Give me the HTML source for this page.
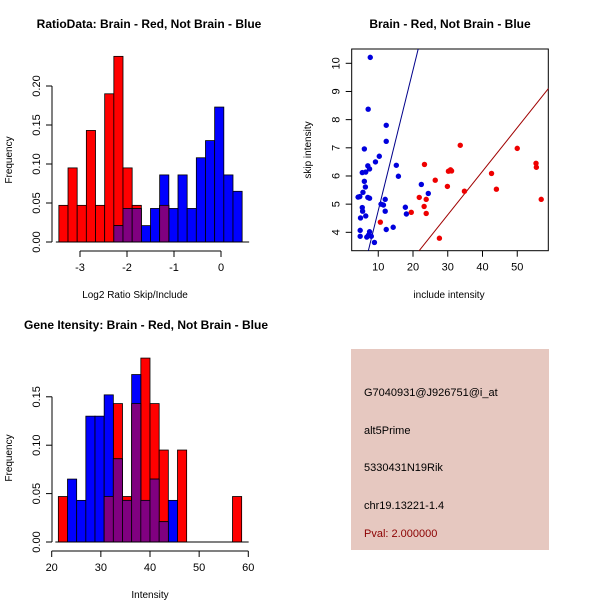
<!DOCTYPE html>
<html><head><meta charset="utf-8"><style>
html,body{margin:0;padding:0;background:#fff}
svg{display:block;font-family:"Liberation Sans",sans-serif}
</style></head><body>
<svg id="c" width="600" height="600" viewBox="0 0 600 600"></svg>
<script>
// ---- Data ----
const ratioRed = [0.047,0.095,0.047,0.143,0.047,0.19,0.238,0.095,0.047,0,0,0.047,0,0,0,0,0,0,0,0];
const ratioBlue = [0,0,0,0,0,0,0.021,0.043,0.043,0.021,0.043,0.086,0.043,0.086,0.043,0.108,0.13,0.173,0.086,0.065];
const ratioStart = -3.45, ratioBinW = 0.195;
const ratioXTicks = [-3,-2,-1,0];
const ratioYTicks = [0,0.05,0.10,0.15,0.20];
const ratioYLabels = ["0.00","0.05","0.10","0.15","0.20"];

const intRed = [0.047,0,0,0,0,0.047,0.143,0.047,0.143,0.19,0.143,0.095,0,0.095,0,0,0,0,0,0.047];
const intBlue = [0,0.065,0.043,0.13,0.13,0.152,0.086,0.043,0.173,0.043,0.065,0.021,0.043,0,0,0,0,0,0,0];
const intStart = 21.35, intBinW = 1.865;
const intXTicks = [20,30,40,50,60];
const intYTicks = [0,0.05,0.10,0.15];
const intYLabels = ["0.00","0.05","0.10","0.15"];

const blueX = [7.7,7.1,12.3,12.3,6.0,10.3,9.2,7.0,7.5,5.4,6.4,15.2,15.8,6.0,6.3,5.6,4.2,4.7,7.0,7.5,22.4,24.4,12.0,10.8,11.5,5.4,5.5,12.0,17.8,18.1,6.4,4.9,4.8,7.5,12.3,14.3,4.8,6.7,8.0,8.9,7.2];
const blueY = [10.21,8.37,7.8,7.23,6.96,6.7,6.5,6.36,6.25,6.12,6.14,6.38,5.99,5.81,5.61,5.42,5.25,5.27,5.24,5.21,5.70,5.38,5.17,5.0,4.97,4.88,4.75,4.75,4.89,4.65,4.58,4.51,4.07,4.02,4.1,4.18,3.86,3.83,3.86,3.64,3.90];
const redX = [10.6,19.5,21.8,23.2,23.8,23.8,23.3,26.4,27.6,29.9,30.2,30.8,31.1,33.6,34.8,42.6,44.0,50.0,55.4,55.5,56.9];
const redY = [4.36,4.71,5.24,4.92,5.17,4.67,6.41,5.85,3.79,5.63,6.17,6.22,6.18,7.09,5.46,6.09,5.53,6.98,6.45,6.31,5.17];
const blueLine = [0.499,-0.22]; // slope, intercept
const redLine = [0.1547,-0.02];
const scXTicks = [10,20,30,40,50];
const scYTicks = [4,5,6,7,8,9,10];

const S = document.getElementById('c');
const NS = 'http://www.w3.org/2000/svg';
function el(tag, attrs, parent){
  const e = document.createElementNS(NS, tag);
  for (const k in attrs) e.setAttribute(k, attrs[k]);
  (parent||S).appendChild(e);
  return e;
}
function txt(x,y,s,opt){
  const t = el('text',{x:x,y:y,'font-size':opt.size||11,'text-anchor':opt.anchor||'middle',fill:opt.fill||'#000','font-weight':opt.bold?'bold':'normal'});
  if (opt.rot) t.setAttribute('transform','rotate(-90 '+x+' '+y+')');
  t.textContent = s;
  return t;
}

function histogram(cfg){
  const g = el('g',{});
  
  
  const X = v => cfg.x0 + (v - cfg.xv0) * cfg.xs;
  const Y = v => cfg.y0 - v * cfg.ys;
  const n = cfg.red.length;
  const barsFor = (arr, color, nm) => {
    for (let i=0;i<n;i++){
      if (arr[i] <= 0) continue;
      const xa = X(cfg.start + i*cfg.bw), xb = X(cfg.start + (i+1)*cfg.bw);
      const r = el('rect',{x:xa,y:Y(arr[i]),width:xb-xa,height:Y(0)-Y(arr[i]),fill:color,stroke:'#000','stroke-width':0.8},g);
      
      
    }
  };
  barsFor(cfg.red,'#ff0000','red-bar');
  barsFor(cfg.blue,'#0000ff','blue-bar');
  const ov = cfg.red.map((v,i)=>Math.min(v,cfg.blue[i]));
  barsFor(ov,'#800080','overlap-bar');
  const ya = el('g',{},g);
  
  
  el('line',{x1:cfg.yaxX,x2:cfg.yaxX,y1:Y(cfg.yt[0]),y2:Y(cfg.yt[cfg.yt.length-1]),stroke:'#000'},ya);
  cfg.yt.forEach((v,i)=>{
    el('line',{x1:cfg.yaxX-6,x2:cfg.yaxX,y1:Y(v),y2:Y(v),stroke:'#000'},ya);
    txt(cfg.yaxX-12,Y(v),cfg.yl[i],{rot:true});
  });
  const xa = el('g',{},g);
  
  
  el('line',{x1:X(cfg.xt[0]),x2:X(cfg.xt[cfg.xt.length-1]),y1:cfg.xaxY,y2:cfg.xaxY,stroke:'#000'},xa);
  cfg.xt.forEach(v=>{
    el('line',{x1:X(v),x2:X(v),y1:cfg.xaxY,y2:cfg.xaxY+6,stroke:'#000'},xa);
    txt(X(v),cfg.xaxY+20,String(v),{});
  });
  el('line',{x1:X(cfg.start)-3,x2:X(cfg.start+n*cfg.bw)+7,y1:Y(0),y2:Y(0),stroke:'#000'},g);
}

let t;
t = txt(149,28,'RatioData: Brain - Red, Not Brain - Blue',{bold:true,size:12});
 
histogram({name:'ratio-histogram',red:ratioRed,blue:ratioBlue,start:ratioStart,bw:ratioBinW,
  x0:221,xv0:0,xs:47,y0:242,ys:780,xt:ratioXTicks,yt:ratioYTicks,yl:ratioYLabels,yaxX:52,xaxY:251});
t = txt(135,298,'Log2 Ratio Skip/Include',{size:10});
 
t = txt(12,160,'Frequency',{size:10,rot:true});
 

t = txt(146,329,'Gene Itensity: Brain - Red, Not Brain - Blue',{bold:true,size:12});
 
histogram({name:'intensity-histogram',red:intRed,blue:intBlue,start:intStart,bw:intBinW,
  x0:51.7,xv0:20,xs:4.915,y0:542,ys:968,xt:intXTicks,yt:intYTicks,yl:intYLabels,yaxX:52,xaxY:551});
t = txt(150,598,'Intensity',{size:10});
 
t = txt(12,458,'Frequency',{size:10,rot:true});
 

(function(){
  const g = el('g',{});
  
  
  const L=351.7,R=548.3,T=49,B=250.7;
  const X = v => 343.5 + v*3.475;
  const Y = v => 63.3 + (10-v)*28.17;
  const cp = el('clipPath',{id:'scclip'},g);
  el('rect',{x:L,y:T,width:R-L,height:B-T},cp);
  const fr = el('rect',{x:L,y:T,width:R-L,height:B-T,fill:'none',stroke:'#000'},g);
   
  const lines = el('g',{'clip-path':'url(#scclip)'},g);
  const drawLine=(p,c,nm)=>{
    const x1=0,x2=70;
    const l=el('line',{x1:X(x1),y1:Y(p[0]*x1+p[1]),x2:X(x2),y2:Y(p[0]*x2+p[1]),stroke:c,'stroke-width':1},lines);
     
  };
  drawLine(blueLine,'#00008b','blue-fit-line');
  drawLine(redLine,'#a00000','red-fit-line');
  blueX.forEach((v,i)=>{
    const c=el('circle',{cx:X(v),cy:Y(blueY[i]),r:2.7,fill:'#0000dd'},g);
     
  });
  redX.forEach((v,i)=>{
    const c=el('circle',{cx:X(v),cy:Y(redY[i]),r:2.7,fill:'#ee0000'},g);
     
  });
  scXTicks.forEach(v=>{
    el('line',{x1:X(v),x2:X(v),y1:B,y2:B+6,stroke:'#000'},g);
    txt(X(v),B+20,String(v),{});
  });
  scYTicks.forEach(v=>{
    el('line',{x1:L-6,x2:L,y1:Y(v),y2:Y(v),stroke:'#000'},g);
    txt(L-12,Y(v),String(v),{rot:true});
  });
  let tt=txt(450,28,'Brain - Red, Not Brain - Blue',{bold:true,size:12});
   
  tt=txt(449,298,'include intensity',{size:10});
   
  tt=txt(311,150,'skip intensity',{size:10,rot:true});
   
})();

(function(){
  const g = el('g',{});
  
  
  el('rect',{x:351,y:349,width:198,height:201,fill:'#e6c8c0'},g);
  const lines=[['G7040931@J926751@i_at',396,'#000','probe-id'],['alt5Prime',434,'#000','event-type'],['5330431N19Rik',471,'#000','gene-name'],['chr19.13221-1.4',509,'#000','location'],['Pval: 2.000000',537,'#8b0000','p-value']];
  lines.forEach(l=>{
    const t=txt(364,l[1],l[0],{anchor:'start',fill:l[2],size:11});
     
  });
})();
</script>
</body></html>
